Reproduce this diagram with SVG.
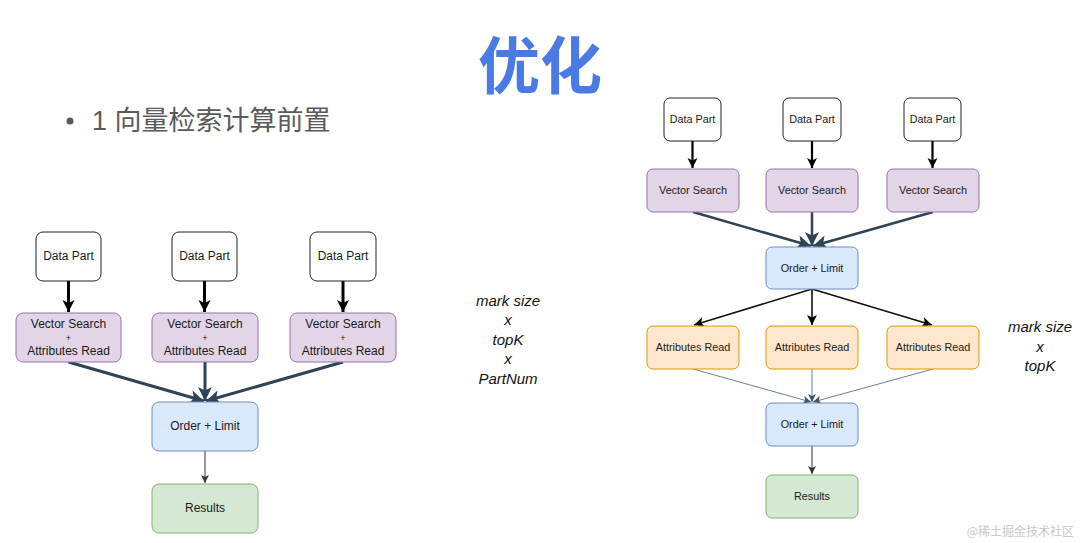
<svg xmlns="http://www.w3.org/2000/svg" width="1080" height="543" viewBox="0 0 1080 543">
<style>
.t{font-family:"Liberation Sans",Arial,sans-serif;fill:#1a1a1a;text-anchor:middle;dominant-baseline:central}
.l{font-size:12px}
.r{font-size:10.8px}
.dp{fill:#fff;stroke:#222;stroke-width:1}
.vs{fill:#e1d5e7;stroke:#9673a6;stroke-width:1}
.ol{fill:#dae8fc;stroke:#6c8ebf;stroke-width:1}
.rs{fill:#d5e8d4;stroke:#82b366;stroke-width:1}
.ar{fill:#ffe6cc;stroke:#d79b00;stroke-width:1}
.note{font-family:"Liberation Sans",Arial,sans-serif;font-style:italic;font-size:15px;fill:#111;text-anchor:middle}
</style>
<defs>
<marker id="mb" markerUnits="userSpaceOnUse" markerWidth="14" markerHeight="14" refX="12" refY="7" orient="auto"><path d="M0,1 L12,7 L0,13 L3,7 Z" fill="#000"/></marker>
<marker id="mbs" markerUnits="userSpaceOnUse" markerWidth="12" markerHeight="12" refX="10" refY="6" orient="auto"><path d="M0,1 L10,6 L0,11 L2.5,6 Z" fill="#000"/></marker>
<marker id="ms" markerUnits="userSpaceOnUse" markerWidth="16" markerHeight="16" refX="14" refY="8" orient="auto"><path d="M0,1 L14,8 L0,15 L3.5,8 Z" fill="#2f4356"/></marker>
<marker id="mt" markerUnits="userSpaceOnUse" markerWidth="10" markerHeight="10" refX="8" refY="5" orient="auto"><path d="M0,1 L8,5 L0,9 L2,5 Z" fill="#333"/></marker>
<marker id="mg" markerUnits="userSpaceOnUse" markerWidth="10" markerHeight="10" refX="8" refY="5" orient="auto"><path d="M0,1 L8,5 L0,9 L2,5 Z" fill="#3f5468"/></marker>
</defs>
<rect width="1080" height="543" fill="#fff"/>
<text x="540" y="89" font-family="'Noto Sans CJK SC',sans-serif" font-weight="bold" font-size="62" fill="#4a7be4" text-anchor="middle">优化</text>
<circle cx="70" cy="121" r="3.5" fill="#5a5a5a"/>
<text x="92" y="130" font-family="'Liberation Sans','Noto Sans CJK SC',sans-serif" font-size="27" fill="#5a5a5a">1 向量检索计算前置</text>

<g id="connectors">
<g stroke="#000" stroke-width="3" fill="none">
<line x1="68.5" y1="281" x2="68.5" y2="312" marker-end="url(#mb)"/>
<line x1="204.5" y1="281" x2="204.5" y2="312" marker-end="url(#mb)"/>
<line x1="343" y1="281" x2="343" y2="312" marker-end="url(#mb)"/>
</g>
<g stroke="#2f4356" stroke-width="3" fill="none">
<line x1="68.5" y1="362" x2="204" y2="401" marker-end="url(#ms)"/>
<line x1="205" y1="362" x2="205" y2="401" marker-end="url(#ms)"/>
<line x1="343" y1="362" x2="206" y2="401" marker-end="url(#ms)"/>
</g>
<line x1="205" y1="451" x2="205" y2="483" stroke="#333" stroke-width="1" marker-end="url(#mt)"/>

<g stroke="#000" stroke-width="2.2" fill="none">
<line x1="692.5" y1="141" x2="692.5" y2="168" marker-end="url(#mbs)"/>
<line x1="812" y1="141" x2="812" y2="168" marker-end="url(#mbs)"/>
<line x1="932.5" y1="141" x2="932.5" y2="168" marker-end="url(#mbs)"/>
</g>
<g stroke="#2f4356" stroke-width="2.5" fill="none">
<line x1="693" y1="212" x2="811" y2="246" marker-end="url(#ms)"/>
<line x1="812" y1="212" x2="812" y2="246" marker-end="url(#ms)"/>
<line x1="933" y1="212" x2="813" y2="246" marker-end="url(#ms)"/>
</g>
<g stroke="#111" stroke-width="1.6" fill="none">
<line x1="812" y1="289" x2="694" y2="325" marker-end="url(#mbs)"/>
<line x1="812" y1="289" x2="812" y2="325" marker-end="url(#mbs)"/>
<line x1="812" y1="289" x2="932" y2="325" marker-end="url(#mbs)"/>
</g>
<g stroke="#6a8099" stroke-width="1" fill="none">
<line x1="693" y1="369" x2="811" y2="402" marker-end="url(#mg)"/>
<line x1="812" y1="369" x2="812" y2="402" marker-end="url(#mg)"/>
<line x1="933" y1="369" x2="813" y2="402" marker-end="url(#mg)"/>
</g>
<line x1="812" y1="446" x2="812" y2="474" stroke="#333" stroke-width="1" marker-end="url(#mt)"/>
</g>

<g id="l-dp1"><rect class="dp" x="36" y="232" width="65" height="49" rx="7"/><text class="t l" x="68.5" y="256">Data Part</text></g>
<g id="l-dp2"><rect class="dp" x="172" y="232" width="65" height="49" rx="7"/><text class="t l" x="204.5" y="256">Data Part</text></g>
<g id="l-dp3"><rect class="dp" x="310" y="232" width="66" height="49" rx="7"/><text class="t l" x="343" y="256">Data Part</text></g>
<g id="l-vs1"><rect class="vs" x="16" y="313" width="105" height="49" rx="7"/><text class="t l" x="68.5" y="324">Vector Search</text><text class="t" x="68.5" y="337.5" font-size="9">+</text><text class="t l" x="68.5" y="351">Attributes Read</text></g>
<g id="l-vs2"><rect class="vs" x="152" y="313" width="106" height="49" rx="7"/><text class="t l" x="205" y="324">Vector Search</text><text class="t" x="205" y="337.5" font-size="9">+</text><text class="t l" x="205" y="351">Attributes Read</text></g>
<g id="l-vs3"><rect class="vs" x="290" y="313" width="106" height="49" rx="7"/><text class="t l" x="343" y="324">Vector Search</text><text class="t" x="343" y="337.5" font-size="9">+</text><text class="t l" x="343" y="351">Attributes Read</text></g>
<g id="l-ol"><rect class="ol" x="152" y="402" width="106" height="49" rx="7"/><text class="t l" x="205" y="426">Order + Limit</text></g>
<g id="l-rs"><rect class="rs" x="152" y="484" width="106" height="49" rx="7"/><text class="t l" x="205" y="508">Results</text></g>

<g id="r-dp1"><rect class="dp" x="664" y="98" width="57" height="43" rx="6"/><text class="t r" x="692.5" y="119">Data Part</text></g>
<g id="r-dp2"><rect class="dp" x="783" y="98" width="58" height="43" rx="6"/><text class="t r" x="812" y="119">Data Part</text></g>
<g id="r-dp3"><rect class="dp" x="904" y="98" width="57" height="43" rx="6"/><text class="t r" x="932.5" y="119">Data Part</text></g>
<g id="r-vs1"><rect class="vs" x="647" y="169" width="92" height="43" rx="6"/><text class="t r" x="693" y="190">Vector Search</text></g>
<g id="r-vs2"><rect class="vs" x="766" y="169" width="92" height="43" rx="6"/><text class="t r" x="812" y="190">Vector Search</text></g>
<g id="r-vs3"><rect class="vs" x="887" y="169" width="92" height="43" rx="6"/><text class="t r" x="933" y="190">Vector Search</text></g>
<g id="r-ol1"><rect class="ol" x="766" y="247" width="92" height="42" rx="6"/><text class="t r" x="812" y="268">Order + Limit</text></g>
<g id="r-ar1"><rect class="ar" x="647" y="326" width="92" height="43" rx="6"/><text class="t r" x="693" y="347">Attributes Read</text></g>
<g id="r-ar2"><rect class="ar" x="766" y="326" width="92" height="43" rx="6"/><text class="t r" x="812" y="347">Attributes Read</text></g>
<g id="r-ar3"><rect class="ar" x="887" y="326" width="92" height="43" rx="6"/><text class="t r" x="933" y="347">Attributes Read</text></g>
<g id="r-ol2"><rect class="ol" x="766" y="403" width="92" height="43" rx="6"/><text class="t r" x="812" y="424">Order + Limit</text></g>
<g id="r-rs"><rect class="rs" x="766" y="475" width="92" height="43" rx="6"/><text class="t r" x="812" y="496">Results</text></g>

<g id="note-left">
<text class="note" x="508" y="306">mark size</text>
<text class="note" x="508" y="325">x</text>
<text class="note" x="508" y="345">topK</text>
<text class="note" x="508" y="364">x</text>
<text class="note" x="508" y="384">PartNum</text>
</g>
<g id="note-right">
<text class="note" x="1040" y="332">mark size</text>
<text class="note" x="1040" y="352">x</text>
<text class="note" x="1040" y="371">topK</text>
</g>
<text x="1074" y="536" font-family="'Noto Sans CJK SC',sans-serif" font-size="12" fill="#c8c8c8" text-anchor="end">@稀土掘金技术社区</text>
</svg>
